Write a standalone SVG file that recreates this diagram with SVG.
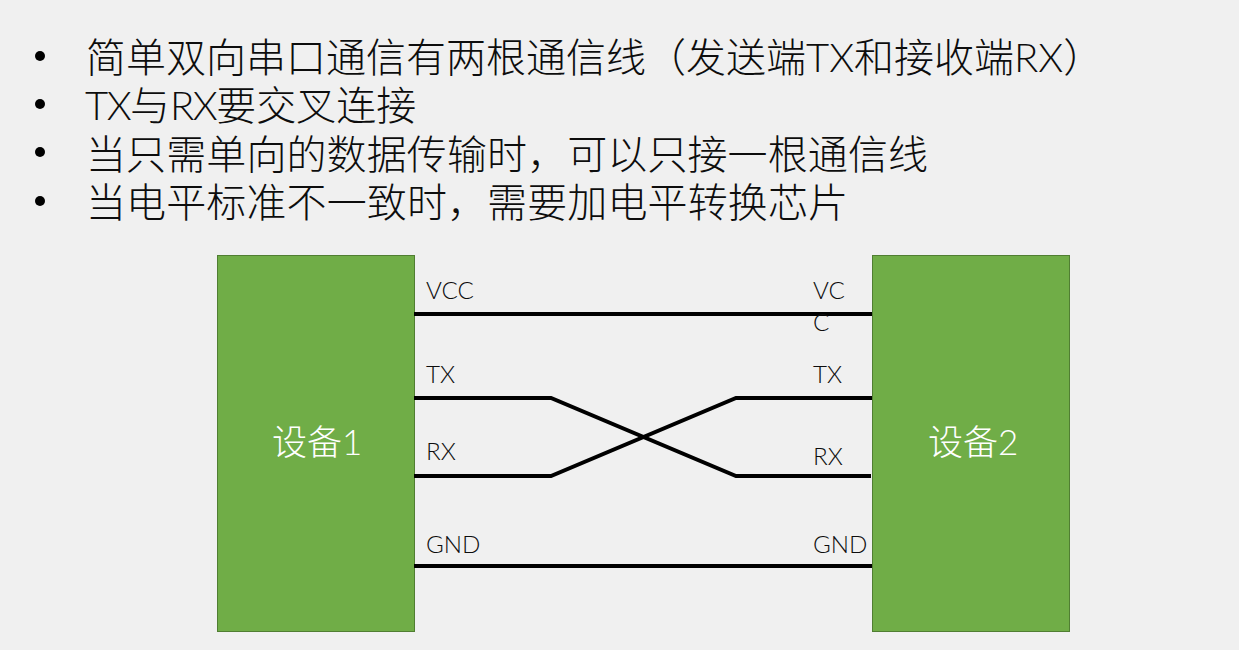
<svg xmlns="http://www.w3.org/2000/svg" width="1239" height="650" viewBox="0 0 1239 650">
<style>
.b{font-family:"Lato","Noto Sans CJK SC",sans-serif;font-weight:300;font-size:40px;fill:#0d0d0d}
.t{letter-spacing:-1.500px}
.l{font-family:"Lato","Noto Sans CJK SC",sans-serif;font-weight:300;font-size:24.200px;fill:#0d0d0d}
.n{font-family:"Lato","Noto Sans CJK SC",sans-serif;font-weight:300;font-size:35px;fill:#fff}
.box{fill:#70ad47;stroke:#507e32;stroke-width:1}
.w{fill:none;stroke:#000;stroke-width:4}
.p{fill:#000}
</style>
<rect width="1239" height="650" fill="#f0f0f0"/>
<g id="bullets">
<circle class="p" cx="40" cy="56" r="5"/><circle class="p" cx="40" cy="104" r="5"/><circle class="p" cx="40" cy="152" r="5"/><circle class="p" cx="40" cy="201" r="5"/>
<text class="b" x="86" y="72">简单双向串口通信有两根通信线（发送端TX和接收端RX）</text>
<text class="b" x="85" y="120"><tspan class="t">TX</tspan>与<tspan class="t">RX</tspan>要交叉连接</text>
<text class="b" x="86" y="169" textLength="842">当只需单向的数据传输时，可以只接一根通信线</text>
<text class="b" x="86" y="217" textLength="762">当电平标准不一致时，需要加电平转换芯片</text>
</g>
<g id="device1"><rect class="box" x="217.500" y="255.500" width="197" height="376"/><text class="n" x="272" y="455">设备1</text></g>
<g id="device2"><rect class="box" x="872.500" y="255.500" width="197" height="376"/><text class="n" x="928" y="455">设备2</text></g>
<g id="connectors">
<path class="w" d="M414 314H872"/>
<path class="w" d="M414 398H551L736 476H871"/>
<path class="w" d="M414 476H551L736 398H872"/>
<path class="w" d="M414 566H872"/>
</g>
<g id="labels">
<text class="l" x="426" y="299">VCC</text><text class="l" x="426" y="383">TX</text><text class="l" x="426" y="460">RX</text><text class="l" x="426" y="553">GND</text>
<text class="l" x="813" y="299">VC</text><text class="l" x="813" y="331">C</text><text class="l" x="813" y="383">TX</text><text class="l" x="813" y="465">RX</text><text class="l" x="813" y="553">GND</text>
</g>
</svg>
